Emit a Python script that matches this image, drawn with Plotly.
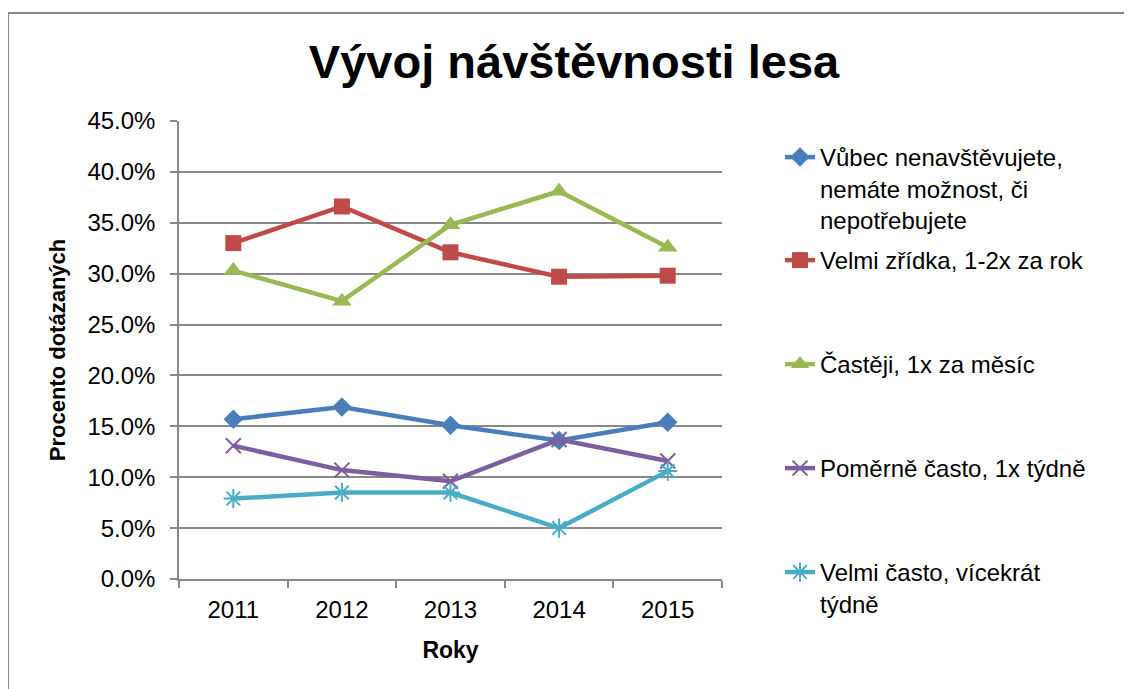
import plotly.graph_objects as go

# data
roky = ["2011", "2012", "2013", "2014", "2015"]

vubec_nenavstevujete = [0.157, 0.169, 0.151, 0.136, 0.154]
velmi_zridka = [0.330, 0.366, 0.321, 0.297, 0.298]
casteji = [0.303, 0.273, 0.348, 0.381, 0.326]
pomerne_casto = [0.131, 0.107, 0.096, 0.137, 0.116]
velmi_casto = [0.079, 0.085, 0.085, 0.050, 0.106]

nazvy = [
    "Vůbec nenavštěvujete,<br>nemáte možnost, či<br>nepotřebujete",
    "Velmi zřídka, 1-2x za rok",
    "Častěji, 1x za měsíc",
    "Poměrně často, 1x týdně",
    "Velmi často, vícekrát<br>týdně",
]
hodnoty = [vubec_nenavstevujete, velmi_zridka, casteji, pomerne_casto, velmi_casto]
barvy = ["#4A7EBB", "#BE4B48", "#98B954", "#7D5FA0", "#4BACC6"]
symboly = ["diamond", "square", "triangle-up", "x-thin-open", "asterisk-open"]
velikosti = [15, 16, 17, 15, 16]

# page offsets the figure by 8px (body margin), positions below are screen px
OFF = 8
W, H = 1132, 689
L, R, T, B = 179 - OFF, 722 - OFF, 121 - OFF, 579 - OFF

def py(y_screen):
    return (B - (y_screen - OFF)) / (B - T)

def px(x_screen):
    return ((x_screen - OFF) - L) / (R - L)

fig = go.Figure()
legend_y = [158, 261, 365, 469, 573]
for i, (nazev, vals, barva, sym, vel) in enumerate(zip(nazvy, hodnoty, barvy, symboly, velikosti)):
    leg = "legend" if i == 0 else f"legend{i + 1}"
    linie = sym.endswith("open")
    fig.add_trace(go.Scatter(
        x=roky, y=vals, name=nazev, mode="lines+markers",
        line=dict(color=barva, width=4.5),
        marker=dict(symbol=sym, size=vel, color=barva,
                    line=dict(color=barva, width=2 if linie else 0)),
        legend=leg,
    ))

legend_font = dict(family="Arial, Liberation Sans", size=24, color="#000000")
layout_legends = {}
for i, ly in enumerate(legend_y):
    key = "legend" if i == 0 else f"legend{i + 1}"
    layout_legends[key] = dict(
        x=px(780), y=py(ly - 23), xanchor="left", yanchor="top",
        font=legend_font, valign="top", bgcolor="rgba(0,0,0,0)",
        itemwidth=30, borderwidth=0,
    )

fig.update_layout(
    width=W, height=H,
    margin=dict(l=L, r=W - R, t=T, b=H - B),
    paper_bgcolor="white", plot_bgcolor="white",
    title=dict(text="<b>Vývoj návštěvnosti lesa</b>", x=0.5, xanchor="center",
               y=1 - (62 - OFF) / H, yanchor="middle",
               font=dict(family="Arial, Liberation Sans", size=47, color="#000000")),
    font=dict(family="Arial, Liberation Sans", color="#000000"),
    showlegend=True,
    **layout_legends,
)

fig.update_xaxes(
    type="category", range=[-0.5, len(roky) - 0.5],
    tickson="boundaries", ticks="outside", ticklen=7,
    tickcolor="#888888", tickwidth=1.5,
    showline=True, linecolor="#888888", linewidth=1.5, showgrid=False,
    tickfont=dict(size=24), ticklabelstandoff=8,
    title=dict(text="<b>Roky</b>", font=dict(size=23), standoff=20),
)
fig.update_yaxes(
    range=[0, 0.45], dtick=0.05, tickformat=".1%",
    ticks="outside", ticklen=7, tickcolor="#888888", tickwidth=1.5,
    showline=True, linecolor="#888888", linewidth=1.5,
    showgrid=True, gridcolor="#888888", gridwidth=1.5, zeroline=False,
    tickfont=dict(size=24), ticklabelstandoff=10,
    title=dict(text="<b>Procento dotázaných</b>", font=dict(size=22), standoff=16),
)

# outer chart border
fig.add_shape(type="rect", xref="paper", yref="paper",
              x0=px(8), x1=px(W + 20), y0=py(H + 20), y1=py(13),
              line=dict(color="#888888", width=2), layer="below")

fig.write_html("out.html")
